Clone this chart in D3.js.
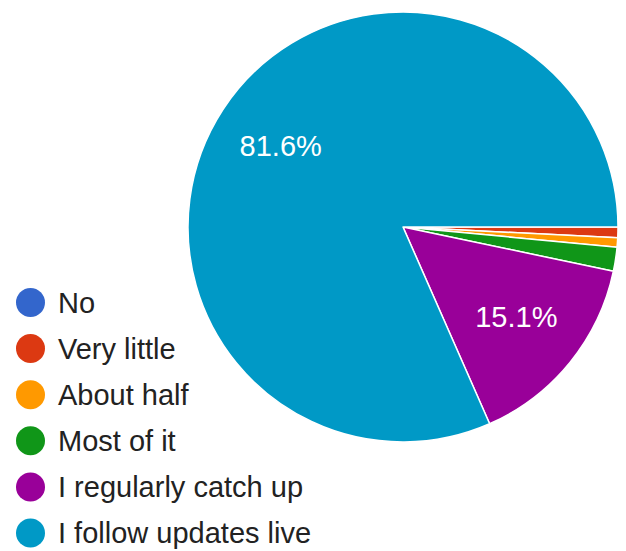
<!DOCTYPE html>
<html><head><meta charset="utf-8">
<script src="https://cdn.jsdelivr.net/npm/d3@7"></script>
<style>body{margin:0;background:#fff}svg{display:block}</style>
</head><body>
<script>
const categories = ["No", "Very little", "About half", "Most of it", "I regularly catch up", "I follow updates live"];
const values = [0, 0.8, 0.7, 1.8, 15.1, 81.6];
const colors = ["#3366cc", "#dc3912", "#ff9900", "#109618", "#990099", "#0099c6"];

const W = 626, H = 551;
const FONT = "'Liberation Sans', Arial, sans-serif";
const svg = d3.select("body").append("svg").attr("width", W).attr("height", H);
const cx = 403, cy = 227, R = 215, labelR = 146;

const data = categories.map((c, i) => ({c, v: values[i], col: colors[i]}));
const pie = d3.pie().value(d => d.v).sort(null).startAngle(Math.PI / 2).endAngle(Math.PI / 2 + 2 * Math.PI);
const arcs = pie(data);
const arc = d3.arc().innerRadius(0).outerRadius(R);
const g = svg.append("g").attr("transform", `translate(${cx},${cy})`);
g.selectAll("path").data(arcs.filter(a => a.data.v > 0)).join("path")
  .attr("d", arc).attr("fill", d => d.data.col)
  .attr("stroke", "#fff").attr("stroke-width", 1.5).attr("stroke-linejoin", "round");

const labelArc = d3.arc().innerRadius(labelR).outerRadius(labelR);
const total = d3.sum(values);
g.selectAll("text.lbl").data(arcs.filter(a => a.data.v / total > 0.05)).join("text")
  .attr("class", "lbl")
  .attr("x", d => labelArc.centroid(d)[0]).attr("y", d => labelArc.centroid(d)[1] - 2)
  .attr("dy", "0.36em")
  .attr("text-anchor", "middle")
  .attr("fill", "#fff").attr("font-family", FONT).attr("font-size", 29)
  .text(d => d3.format(".1f")(d.data.v / total * 100) + "%");

const leg = svg.append("g");
const rows = leg.selectAll("g").data(data).join("g")
  .attr("transform", (d, i) => `translate(0,${302.5 + i * 46.1})`);
rows.append("circle").attr("cx", 30.5).attr("cy", 0).attr("r", 14.5).attr("fill", d => d.col);
rows.append("text").attr("x", 58).attr("y", 0).attr("dy", "0.36em")
  .attr("fill", "#222").attr("font-family", FONT).attr("font-size", 29)
  .text(d => d.c);
</script>
</body></html>
